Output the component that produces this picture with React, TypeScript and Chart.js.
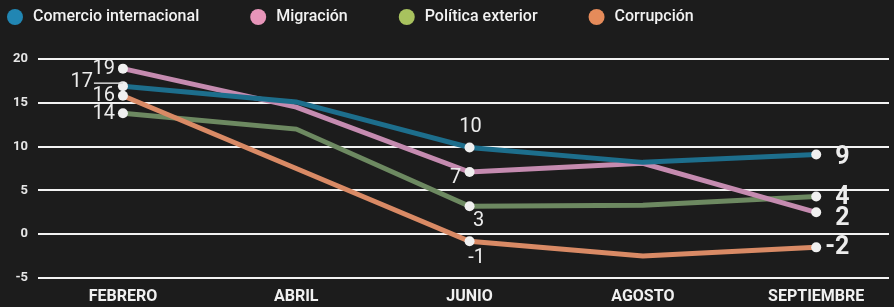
import React, { useEffect, useRef } from 'react';
import { Chart, registerables } from 'chart.js';

Chart.register(...registerables);

const months = ['FEBRERO', 'ABRIL', 'JUNIO', 'AGOSTO', 'SEPTIEMBRE'];
const seriesNames = ['Comercio internacional', 'Migración', 'Política exterior', 'Corrupción'];

const comercio = [16.9, 15.1, 9.9, 8.2, 9.1];
const migracion = [18.9, 14.5, 7.1, 8.1, 2.5];
const politica = [13.8, 12.0, 3.2, 3.3, 4.3];
const corrupcion = [15.8, 7.5, -0.8, -2.5, -1.5];

const comercioLabels = ['17', '', '10', '', '9'];
const migracionLabels = ['19', '', '7', '', '2'];
const politicaLabels = ['14', '', '3', '', '4'];
const corrupcionLabels = ['16', '', '-1', '', '-2'];

const yTicks = [-5, 0, 5, 10, 15, 20];

const lineColors = ['#1d6e8c', '#c58bb0', '#6d8961', '#d98a65'];
const markerColors = ['#2186b3', '#e795b9', '#a8c25e', '#e58b5a'];

const FONT = 'Roboto, "Open Sans", sans-serif';

// label placement per series / month index: [dx, dy, align, size, weight]
type Place = [number, number, CanvasTextAlign, number, string];
const placements: Record<number, Record<number, Place>> = {
  0: { 0: [-30, -4, 'right', 20, '400'], 2: [1, -20, 'center', 20, '400'], 4: [19, 3, 'left', 25, '700'] },
  1: { 0: [-8, 0, 'right', 20, '400'], 2: [-14, 6, 'center', 20, '400'], 4: [19, 6, 'left', 25, '700'] },
  2: { 0: [-8, 1, 'right', 20, '400'], 2: [9, 15, 'center', 20, '400'], 4: [19, 1, 'left', 25, '700'] },
  3: { 0: [-8, 0, 'right', 20, '400'], 2: [7, 17, 'center', 20, '400'], 4: [9, 0, 'left', 25, '700'] },
};

const allLabels = [comercioLabels, migracionLabels, politicaLabels, corrupcionLabels];
const allValues = [comercio, migracion, politica, corrupcion];

const bgPlugin = {
  id: 'bg',
  beforeDraw(chart: any) {
    const { ctx, width, height } = chart;
    ctx.save();
    ctx.fillStyle = '#1c1c1c';
    ctx.fillRect(0, 0, width, height);
    ctx.restore();
  },
};

const legendPlugin = {
  id: 'customLegend',
  afterDraw(chart: any) {
    const { ctx } = chart;
    ctx.save();
    ctx.font = `500 16px ${FONT}`;
    ctx.textBaseline = 'middle';
    let x = 6;
    const y = 17;
    chart.data.datasets.forEach((ds: any, i: number) => {
      ctx.fillStyle = markerColors[i];
      ctx.beginPath();
      ctx.arc(x + 9, y, 8, 0, Math.PI * 2);
      ctx.fill();
      ctx.fillStyle = '#f2f2f2';
      ctx.textAlign = 'left';
      ctx.fillText(ds.label, x + 27, y);
      x += 27 + ctx.measureText(ds.label).width + 50;
    });
    ctx.restore();
  },
};

const valueLabelPlugin = {
  id: 'valueLabels',
  afterDatasetsDraw(chart: any) {
    const { ctx } = chart;
    ctx.save();
    chart.data.datasets.forEach((ds: any, di: number) => {
      const meta = chart.getDatasetMeta(di);
      const labels = allLabels[di];
      meta.data.forEach((pt: any, i: number) => {
        const txt = labels[i];
        if (!txt) return;
        const p = placements[di][i];
        if (!p) return;
        const [dx, dy, align, size, weight] = p;
        ctx.font = `${weight} ${size}px ${FONT}`;
        ctx.fillStyle = '#ececec';
        ctx.textAlign = align;
        ctx.textBaseline = 'middle';
        ctx.fillText(txt, pt.x + dx, pt.y + dy);
        if (di === 0 && i === 0) {
          ctx.strokeStyle = '#d8d8d8';
          ctx.lineWidth = 1.5;
          ctx.beginPath();
          ctx.moveTo(pt.x + dx + 1, pt.y - 3);
          ctx.lineTo(pt.x, pt.y - 3);
          ctx.stroke();
        }
      });
    });
    ctx.restore();
  },
};

export default function App() {
  const ref = useRef<HTMLCanvasElement | null>(null);

  useEffect(() => {
    document.body.style.margin = '0';
    document.body.style.background = '#1c1c1c';
    if (!ref.current) return;
    const datasets = allValues.map((vals, di) => ({
      label: seriesNames[di],
      data: vals.map((v, i) => ({ x: i, y: v })),
      borderColor: lineColors[di],
      borderWidth: 5,
      pointRadius: allLabels[di].map((l) => (l ? 5 : 0)),
      pointBackgroundColor: '#f0f0f0',
      pointBorderWidth: 0,
      tension: 0,
      order: [1, 2, 4, 3][di],
    }));
    const chart = new Chart(ref.current, {
      type: 'line',
      data: { datasets },
      options: {
        animation: false,
        responsive: true,
        maintainAspectRatio: false,
        layout: { padding: { top: 59, left: 0, right: 0, bottom: 0 } },
        plugins: {
          legend: { display: false },
          tooltip: { enabled: false },
        },
        scales: {
          x: {
            type: 'linear',
            min: -0.49,
            max: 4.42,
            grid: { display: false, drawTicks: false },
            border: { display: false },
            afterBuildTicks: (scale: any) => {
              scale.ticks = months.map((_, i) => ({ value: i }));
            },
            afterFit: (scale: any) => {
              scale.height = 29;
            },
            ticks: {
              autoSkip: false,
              maxRotation: 0,
              padding: 9,
              color: '#f0f0f0',
              font: { family: FONT, size: 16, weight: 'bold' },
              callback: (v: any) => months[v as number] ?? '',
            },
          },
          y: {
            min: -5,
            max: 20,
            afterBuildTicks: (scale: any) => {
              scale.ticks = yTicks.map((v) => ({ value: v }));
            },
            afterFit: (scale: any) => {
              scale.width = 38;
            },
            grid: { color: '#f2f2f2', lineWidth: 2, drawTicks: false },
            border: { display: false },
            ticks: {
              padding: 10,
              color: '#e6e6e6',
              font: { family: FONT, size: 13, weight: 'bold' },
            },
          },
        },
      },
      plugins: [bgPlugin, legendPlugin, valueLabelPlugin],
    });
    return () => chart.destroy();
  }, []);

  return (
    <div style={{ width: 894, height: 307, position: 'relative', background: '#1c1c1c' }}>
      <canvas ref={ref} />
    </div>
  );
}
